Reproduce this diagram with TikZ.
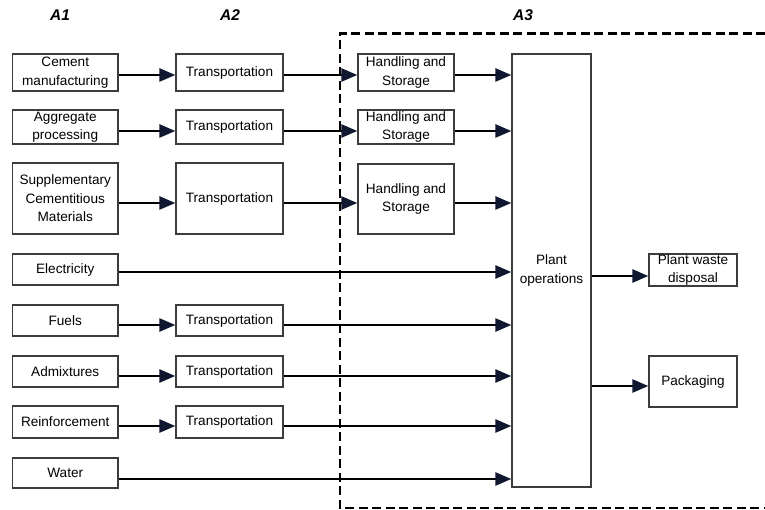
\documentclass[tikz,border=0pt]{standalone}
\usepackage{fontspec}
\setmainfont{Liberation Sans}
\usetikzlibrary{arrows.meta}
\definecolor{headcol}{RGB}{16,24,48}
\definecolor{boxcol}{RGB}{60,60,60}
\begin{document}
\begin{tikzpicture}[x=1pt,y=-1pt,
  box/.style={draw=boxcol,line width=1.3pt,inner sep=0pt,align=center,
    font=\fontsize{13.6}{18.5}\selectfont},
  arr/.style={line width=2.6pt,-{Triangle[length=16pt,width=13pt,fill=headcol,color=headcol]}},
  lab/.style={font=\fontsize{15.5}{18}\selectfont\bfseries\itshape}]
\useasboundingbox (0,0) rectangle (765,510);
\fill[white] (0,0) rectangle (765,510);
% column labels
\node[lab] (a1) at (60,15) {A1};
\node[lab] (a2) at (230,15) {A2};
\node[lab] (a3) at (523,15) {A3};
% dashed A3 frame
\draw[line width=2.5pt,dash pattern=on 9pt off 4.5pt] (765,33.5) -- (340,33.5) -- (340,508) -- (765,508);
% A1 boxes
\node[box,minimum width=105.5pt,minimum height=37pt] (cem) at (65.25,72.5) {Cement\\manufacturing};
\node[box,minimum width=105.5pt,minimum height=34pt] (agg) at (65.25,127) {Aggregate\\processing};
\node[box,minimum width=105.5pt,minimum height=71pt] (scm) at (65.25,198.5) {Supplementary\\Cementitious\\Materials};
\node[box,minimum width=105.5pt,minimum height=31pt] (ele) at (65.25,269.5) {Electricity};
\node[box,minimum width=105.5pt,minimum height=31pt] (fue) at (65.25,320.5) {Fuels};
\node[box,minimum width=105.5pt,minimum height=31pt] (adm) at (65.25,371.5) {Admixtures};
\node[box,minimum width=105.5pt,minimum height=32pt] (rei) at (65.25,422) {Reinforcement};
\node[box,minimum width=105.5pt,minimum height=30pt] (wat) at (65.25,473) {Water};
% A2 boxes
\node[box,minimum width=107pt,minimum height=37pt] (tr1) at (229.5,72.5) {Transportation};
\node[box,minimum width=107pt,minimum height=34pt] (tr2) at (229.5,127) {Transportation};
\node[box,minimum width=107pt,minimum height=71pt] (tr3) at (229.5,198.5) {Transportation};
\node[box,minimum width=107pt,minimum height=31pt] (tr4) at (229.5,320.5) {Transportation};
\node[box,minimum width=107pt,minimum height=31pt] (tr5) at (229.5,371.5) {Transportation};
\node[box,minimum width=107pt,minimum height=32pt] (tr6) at (229.5,422) {Transportation};
% A3 boxes
\node[box,minimum width=96pt,minimum height=37pt] (hs1) at (406,72.5) {Handling and\\Storage};
\node[box,minimum width=96pt,minimum height=34pt] (hs2) at (406,127) {Handling and\\Storage};
\node[box,minimum width=96pt,minimum height=70pt] (hs3) at (406,199) {Handling and\\Storage};
\node[box,minimum width=79pt,minimum height=433pt] (plant) at (551.5,270.5) {Plant\\operations};
\node[box,minimum width=88pt,minimum height=32pt] (waste) at (693,270) {Plant waste\\disposal};
\node[box,minimum width=88pt,minimum height=51pt] (pack) at (693,381.5) {Packaging};
% connectors A1 -> A2
\draw[arr] (cem.east) ++(0,-2.5pt) coordinate (c1) -- (c1 -| tr1.west);
\draw[arr] (agg.east) ++(0,-4pt) coordinate (c2) -- (c2 -| tr2.west);
\draw[arr] (scm.east) ++(0,-4.5pt) coordinate (c3) -- (c3 -| tr3.west);
\draw[arr] (fue.east) ++(0,-4.5pt) coordinate (c4) -- (c4 -| tr4.west);
\draw[arr] (adm.east) ++(0,-4.5pt) coordinate (c5) -- (c5 -| tr5.west);
\draw[arr] (rei.east) ++(0,-4pt) coordinate (c6) -- (c6 -| tr6.west);
% A2 -> handling
\draw[arr] (tr1.east) ++(0,-2.5pt) coordinate (d1) -- (d1 -| hs1.west);
\draw[arr] (tr2.east) ++(0,-4pt) coordinate (d2) -- (d2 -| hs2.west);
\draw[arr] (tr3.east) ++(0,-4.5pt) coordinate (d3) -- (d3 -| hs3.west);
% handling -> plant
\draw[arr] (hs1.east) ++(0,-2.5pt) coordinate (e1) -- (e1 -| plant.west);
\draw[arr] (hs2.east) ++(0,-4pt) coordinate (e2) -- (e2 -| plant.west);
\draw[arr] (hs3.east) ++(0,-4pt) coordinate (e3) -- (e3 -| plant.west);
% direct / transport -> plant
\draw[arr] (ele.east) ++(0,-2.5pt) coordinate (f1) -- (f1 -| plant.west);
\draw[arr] (tr4.east) ++(0,-4.5pt) coordinate (f2) -- (f2 -| plant.west);
\draw[arr] (tr5.east) ++(0,-4.5pt) coordinate (f3) -- (f3 -| plant.west);
\draw[arr] (tr6.east) ++(0,-4pt) coordinate (f4) -- (f4 -| plant.west);
\draw[arr] (wat.east) ++(0,-6pt) coordinate (f5) -- (f5 -| plant.west);
% plant -> outputs
\draw[arr] (plant.east |- waste.west) ++(0,-6pt) coordinate (g1) -- (g1 -| waste.west);
\draw[arr] (plant.east |- pack.west) ++(0,-4.5pt) coordinate (g2) -- (g2 -| pack.west);
\end{tikzpicture}
\end{document}
